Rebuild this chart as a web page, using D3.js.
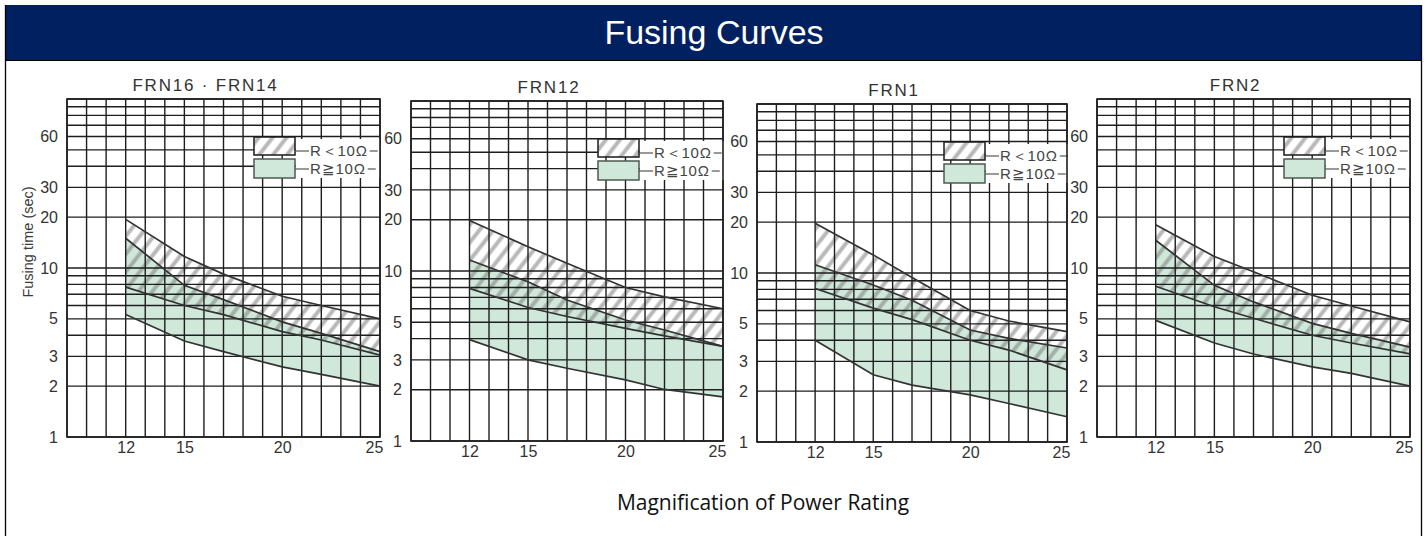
<!DOCTYPE html>
<html>
<head>
<meta charset="utf-8">
<script src="https://cdn.jsdelivr.net/npm/d3@7"></script>
<style>
    body { margin: 0; background: #fff; }
</style>
</head>
<body>
<div id="container"></div>
<script>
const width = 1427,
    height = 536;

const panelNames = ["FRN16 · FRN14", "FRN12", "FRN1", "FRN2"];
const ratings = [12, 15, 17, 20, 22, 25];
const yTicks = [1, 2, 3, 5, 10, 20, 30, 60];
const xTicks = [12, 15, 20, 25];
const legendLabels = ["R＜10Ω", "R≧10Ω"];

// fusing time (sec) at each rating: edges of the R<10Ω band and the R≧10Ω band
const frn16LtHigh = [19.4, 11.7, 9.2, 6.8, 6.0, 5.0];
const frn16LtLow  = [7.7, 6.0, 5.3, 4.2, 3.75, 3.05];
const frn16GeHigh = [15.0, 7.9, 6.5, 4.8, 4.1, 3.2];
const frn16GeLow  = [5.3, 3.7, 3.2, 2.6, 2.35, 2.0];

const frn12LtHigh = [19.8, 13.9, 11.1, 8.0, 7.05, 6.0];
const frn12LtLow  = [7.9, 6.1, 5.4, 4.6, 4.15, 3.6];
const frn12GeHigh = [11.6, 8.65, 6.75, 5.15, 4.5, 3.6];
const frn12GeLow  = [3.95, 3.0, 2.68, 2.29, 2.01, 1.82];

const frn1LtHigh = [19.7, 12.8, 9.4, 6.0, 5.2, 4.5];
const frn1LtLow  = [8.1, 6.2, 5.3, 4.0, 3.5, 2.67];
const frn1GeHigh = [11.2, 8.5, 6.9, 4.6, 4.1, 3.6];
const frn1GeLow  = [4.0, 2.5, 2.17, 1.9, 1.69, 1.41];

const frn2LtHigh = [18.0, 11.7, 9.5, 6.9, 5.96, 4.8];
const frn2LtLow  = [7.8, 5.9, 5.04, 4.0, 3.6, 3.1];
const frn2GeHigh = [14.6, 7.9, 6.3, 4.7, 4.1, 3.4];
const frn2GeLow  = [4.9, 3.6, 3.1, 2.6, 2.38, 2.0];

const panels = [
    {name: panelNames[0], ltHigh: frn16LtHigh, ltLow: frn16LtLow, geHigh: frn16GeHigh, geLow: frn16GeLow},
    {name: panelNames[1], ltHigh: frn12LtHigh, ltLow: frn12LtLow, geHigh: frn12GeHigh, geLow: frn12GeLow},
    {name: panelNames[2], ltHigh: frn1LtHigh, ltLow: frn1LtLow, geHigh: frn1GeHigh, geLow: frn1GeLow},
    {name: panelNames[3], ltHigh: frn2LtHigh, ltLow: frn2LtLow, geHigh: frn2GeHigh, geLow: frn2GeLow}
];

// plot frames of the four scanned charts
const frames = [
    {left: 67, right: 380, top: 99, bottom: 437},
    {left: 411, right: 723, top: 101, bottom: 441},
    {left: 757, right: 1067, top: 104, bottom: 442},
    {left: 1097, right: 1410, top: 99, bottom: 437}
];

const green = "#cfe8da",
    gridColor = "#1e1e1e",
    textColor = "#333",
    font = "'Liberation Sans', Arial, sans-serif";

var svg = d3.select("#container").append("svg")
    .attr("width", width)
    .attr("height", height)
    .style("display", "block");

var defs = svg.append("defs");
defs.append("pattern")
    .attr("id", "hatch")
    .attr("patternUnits", "userSpaceOnUse")
    .attr("width", 11)
    .attr("height", 11)
    .attr("patternTransform", "rotate(38)")
    .append("line")
    .attr("x1", 2.5).attr("y1", -1)
    .attr("x2", 2.5).attr("y2", 12)
    .attr("stroke", "rgba(125,125,125,0.55)")
    .attr("stroke-width", 4);

// header bar
svg.append("rect")
    .attr("x", 5).attr("y", 5)
    .attr("width", 1416).attr("height", 55)
    .attr("fill", "#002060");

svg.append("line")
    .attr("x1", 5).attr("x2", 1421)
    .attr("y1", 60.5).attr("y2", 60.5)
    .attr("stroke", "#000").attr("stroke-width", 1.2);

svg.append("text")
    .attr("x", 714).attr("y", 44)
    .attr("text-anchor", "middle")
    .style("font-family", font)
    .style("font-size", "34px")
    .attr("fill", "#fff")
    .text("Fusing Curves");

// outer frame
[5.5, 1421.5].forEach(function(xx) {
    svg.append("line")
        .attr("x1", xx).attr("x2", xx)
        .attr("y1", 5).attr("y2", height)
        .attr("stroke", "#000").attr("stroke-width", 1.3);
});

panels.forEach(function(p, i) {
    drawPanel(p, frames[i], i === 0);
});

svg.append("text")
    .attr("x", 763).attr("y", 510)
    .attr("text-anchor", "middle")
    .style("font-family", "'Open Sans', sans-serif")
    .style("font-size", "21px")
    .attr("fill", "#111")
    .text("Magnification of Power Rating");

function drawPanel(p, b, showYTitle) {
    var x = d3.scaleLinear()
        .domain([9, 25])
        .range([b.left, b.right]);

    var y = d3.scaleLog()
        .domain([1, 100])
        .range([b.bottom, b.top]);

    var g = svg.append("g");

    g.append("rect")
        .attr("x", b.left).attr("y", b.top)
        .attr("width", b.right - b.left).attr("height", b.bottom - b.top)
        .attr("fill", "#fff");

    function band(low) {
        return d3.area()
            .x(function(d, j) { return x(ratings[j]); })
            .y0(function(d, j) { return y(low[j]); })
            .y1(function(d) { return y(d); });
    }

    g.append("path")
        .datum(p.geHigh)
        .attr("d", band(p.geLow))
        .attr("fill", green);

    g.append("path")
        .datum(p.ltHigh)
        .attr("d", band(p.ltLow))
        .attr("fill", "url(#hatch)");

    // grid
    g.selectAll(".vgrid")
        .data(d3.range(9, 26))
        .enter().append("line")
        .attr("class", "vgrid")
        .attr("x1", function(d) { return x(d); })
        .attr("x2", function(d) { return x(d); })
        .attr("y1", b.top).attr("y2", b.bottom)
        .attr("stroke", gridColor).attr("stroke-width", 1.4);

    g.selectAll(".hgrid")
        .data(y.ticks())
        .enter().append("line")
        .attr("class", "hgrid")
        .attr("x1", b.left).attr("x2", b.right)
        .attr("y1", function(d) { return y(d); })
        .attr("y2", function(d) { return y(d); })
        .attr("stroke", gridColor).attr("stroke-width", 1.4);

    // curves
    var line = d3.line()
        .x(function(d, j) { return x(ratings[j]); })
        .y(function(d) { return y(d); });

    [p.ltHigh, p.ltLow, p.geHigh, p.geLow].forEach(function(c) {
        g.append("path")
            .attr("d", line(c))
            .attr("fill", "none")
            .attr("stroke", "#333")
            .attr("stroke-width", 1.7);
    });

    // legend
    var lx = b.left + 187,
        lw = 41;

    g.append("rect")
        .attr("x", lx + lw + 1).attr("y", b.top + 40)
        .attr("width", 84).attr("height", 39)
        .attr("fill", "#fff");

    var rows = [
        {y: b.top + 38, h: 18, fill: "url(#hatch)", stroke: "#1a1a1a", ty: 14},
        {y: b.top + 60, h: 19, fill: green, stroke: "#4d5a52", ty: 10}
    ];

    rows.forEach(function(r, k) {
        g.append("rect")
            .attr("x", lx).attr("y", r.y)
            .attr("width", lw).attr("height", r.h)
            .attr("fill", "#fff");
        g.append("rect")
            .attr("x", lx).attr("y", r.y)
            .attr("width", lw).attr("height", r.h)
            .attr("fill", r.fill)
            .attr("stroke", r.stroke)
            .attr("stroke-width", 1.5);

        var ty = r.y + r.ty;
        var t = g.append("text")
            .attr("x", lx + lw + 15).attr("y", ty)
            .attr("dy", "0.36em")
            .style("font-family", font)
            .style("font-size", "15px")
            .style("letter-spacing", "0.8px")
            .attr("fill", "#444")
            .text(legendLabels[k]);

        var tw = t.node().getComputedTextLength();

        g.append("line")
            .attr("x1", lx + lw).attr("x2", lx + lw + 14)
            .attr("y1", ty).attr("y2", ty)
            .attr("stroke", "#555").attr("stroke-width", 1.2);
        g.append("line")
            .attr("x1", lx + lw + 17 + tw).attr("x2", lx + lw + 25 + tw)
            .attr("y1", ty).attr("y2", ty)
            .attr("stroke", "#555").attr("stroke-width", 1.2);
    });

    // frame
    g.append("rect")
        .attr("x", b.left).attr("y", b.top)
        .attr("width", b.right - b.left).attr("height", b.bottom - b.top)
        .attr("fill", "none")
        .attr("stroke", gridColor).attr("stroke-width", 1.6);

    // axes
    var yAxis = g.append("g")
        .attr("transform", `translate(${b.left}, 0)`)
        .call(d3.axisLeft(y).tickValues(yTicks).tickFormat(d3.format("d")).tickSize(0).tickPadding(9));

    var xAxis = g.append("g")
        .attr("transform", `translate(0, ${b.bottom})`)
        .call(d3.axisBottom(x).tickValues(xTicks).tickFormat(d3.format("d")).tickSize(0).tickPadding(5));

    [yAxis, xAxis].forEach(function(a) {
        a.select(".domain").remove();
        a.selectAll("text")
            .style("font-family", font)
            .style("font-size", "16px")
            .attr("fill", textColor);
    });

    xAxis.selectAll(".tick")
        .filter(function(d) { return d === 25; })
        .select("text")
        .attr("dx", -6);

    g.append("text")
        .attr("x", (b.left + b.right) / 2 - 18)
        .attr("y", b.top - 8)
        .attr("text-anchor", "middle")
        .style("font-family", font)
        .style("font-size", "17px")
        .style("letter-spacing", "1.8px")
        .attr("fill", "#333")
        .text(p.name);

    if (showYTitle) {
        g.append("text")
            .attr("transform", `translate(${33}, ${242}) rotate(-90)`)
            .attr("text-anchor", "middle")
            .style("font-family", font)
            .style("font-size", "14.5px")
            .attr("fill", "#3a3a3a")
            .text("Fusing time (sec)");
    }
}
</script>
</body>
</html>
